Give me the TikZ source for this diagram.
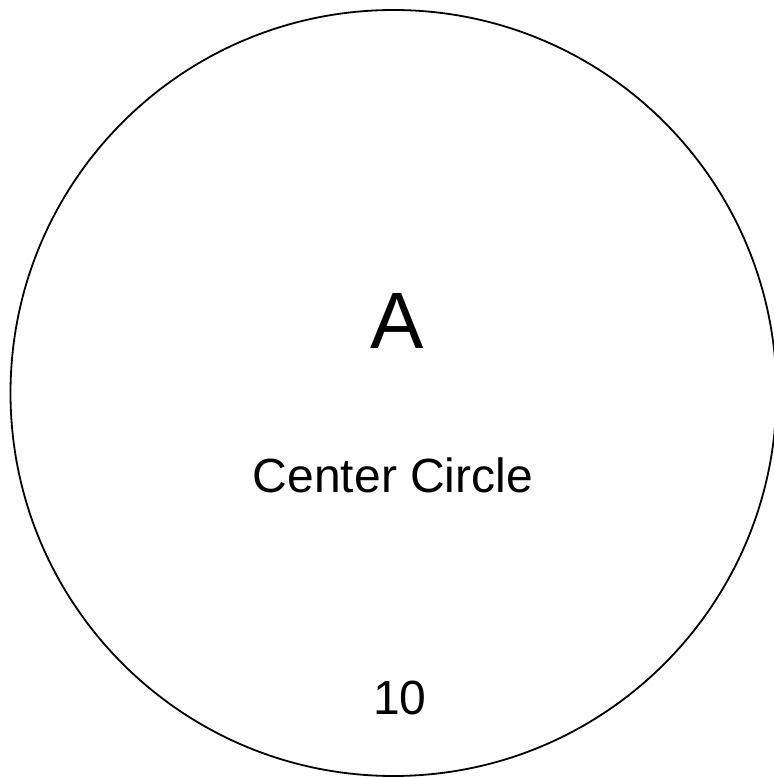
\documentclass[tikz,border=0pt]{standalone}
\usepackage{fontspec}
\setmainfont{Liberation Sans}
\begin{document}
\begin{tikzpicture}[
    x=0.5pt, y=0.5pt,
    ring/.style={circle, draw=black, line width=0.9pt, minimum size=383pt, inner sep=0pt},
    big/.style={font=\fontsize{40}{48}\selectfont, inner sep=0pt, anchor=base},
    lbl/.style={font=\fontsize{24}{29}\selectfont, inner sep=0pt, anchor=base},
  ]

  % --- area of the picture ---
  \useasboundingbox (0,0) rectangle (773,778);

  % --- the circle (cut by the right edge) ---
  \node[ring] (centre) at (393.5,385) {};

  % --- texts inside it ---
  \node[big] (letter) at (397,429) {A};
  \node[lbl] (name)   at (393,285) {Center Circle};
  \node[lbl] (value)  at (400,63)  {10};

\end{tikzpicture}
\end{document}
